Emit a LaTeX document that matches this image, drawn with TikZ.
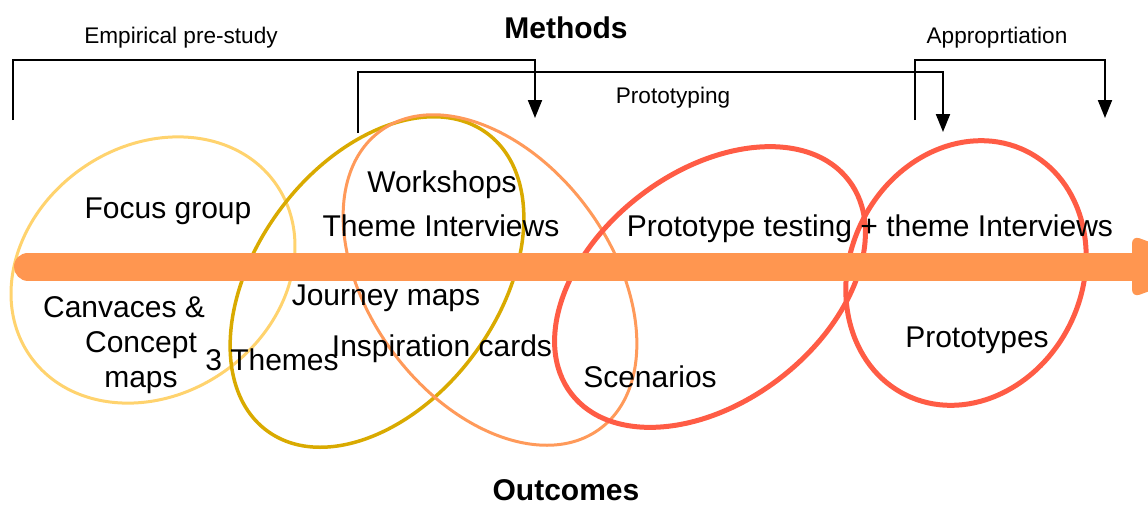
\documentclass[tikz,border=0pt]{standalone}
\usepackage{fontspec}
\setmainfont{Liberation Sans}
\usetikzlibrary{ calc, arrows.meta, shapes.geometric }
\definecolor{ring_light}{HTML}{FFD36E}
\definecolor{ring_gold}{HTML}{D9AA00}
\definecolor{ring_orange}{HTML}{FF9A5A}
\definecolor{ring_red}{HTML}{FF5C45}
\definecolor{timeline_orange}{HTML}{FF9650}
\tikzset{
    label_text/.style={font=\fontsize{15}{17.5}\selectfont, text centered, align=center, inner sep=0pt, anchor=base},
    phase_text/.style={font=\fontsize{11.3}{13}\selectfont, text centered, inner sep=0pt, anchor=base},
    title_text/.style={font=\fontsize{15}{18}\selectfont\bfseries, text centered, inner sep=0pt, anchor=base},
    ring/.style={ellipse, inner sep=0pt, outer sep=0pt, draw},
    arrow/.style={line width=1pt, -{Triangle[length=9pt, width=7pt]}},
    timeline/.style={line width=14pt, line cap=round, draw=timeline_orange},
}

\begin{document}
\begin{tikzpicture}[x=0.5pt, y=-0.5pt]
            \useasboundingbox (0,0) rectangle (1148,505);
            \clip (0,0) rectangle (1148,505);
            %%%%%%%%%
            % RINGS %
            %%%%%%%%%
            \node (pre_study_ring) [ring, draw=ring_light, line width=1.5pt,
                    minimum width=150pt, minimum height=124pt, rotate=35] at (153,270) {};
            \node (themes_ring) [ring, draw=ring_gold, line width=1.75pt,
                    minimum width=185pt, minimum height=121pt, rotate=53.5] at (377,282) {};
            \node (workshop_ring) [ring, draw=ring_orange, line width=1.5pt,
                    minimum width=185pt, minimum height=121pt, rotate=-53.5] at (490,280) {};
            \node (testing_ring) [ring, draw=ring_red, line width=2.5pt,
                    minimum width=175pt, minimum height=115pt, rotate=37.6] at (710,287) {};
            \node (prototype_ring) [ring, draw=ring_red, line width=2.5pt,
                    minimum width=136pt, minimum height=116pt, rotate=63.7] at (966,273) {};

            %%%%%%%%%%%%
            % TIMELINE %
            %%%%%%%%%%%%
            \coordinate (timeline_start) at (28,266.5);
            \coordinate (timeline_end) at (1136,266.5);
            \draw [timeline] (timeline_start) -- (timeline_end);
            \fill [timeline_orange, rounded corners=4pt]
                    ($(timeline_end)+(-4,-31)$) -- ($(timeline_end)+(80,0)$)
                    -- ($(timeline_end)+(-4,31)$) -- cycle;

            %%%%%%%%%%%
            % PHASES  %
            %%%%%%%%%%%
            \node (methods) [title_text] at (566,38) {Methods};
            \node (outcomes) [title_text] at (566,500) {Outcomes};
            \node (pre_study) [phase_text] at (181,43) {Empirical pre-study};
            \node (prototyping) [phase_text] at (673,103) {Prototyping};
            \node (appropriation) [phase_text] at (997,43) {Approprtiation};

            \coordinate (pre_study_from) at (13,120);
            \coordinate (pre_study_to) at (535,118);
            \coordinate (prototyping_from) at (358,133);
            \coordinate (prototyping_to) at (943,132);
            \coordinate (appropriation_from) at (915,120);
            \coordinate (appropriation_to) at (1105,118);

            \draw [arrow] (pre_study_from) -- ++(0,-60) -| (pre_study_to);
            \draw [arrow] (prototyping_from) -- ++(0,-61) -| (prototyping_to);
            \draw [arrow] (appropriation_from) -- ++(0,-60) -| (appropriation_to);

            %%%%%%%%%%
            % LABELS %
            %%%%%%%%%%
            \node (focus_group) [label_text] at (168,218) {Focus group};
            \node (canvases) [label_text, anchor=center] at (141,345)
                    {Canvaces \&\kern17pt\\ Concept\\ maps};
            \node (three_themes) [label_text] at (272,370) {3 Themes};
            \node (workshops) [label_text] at (442,192) {Workshops};
            \node (theme_interviews) [label_text] at (441,236) {Theme Interviews};
            \node (journey_maps) [label_text] at (386,305) {Journey maps};
            \node (inspiration_cards) [label_text] at (442,356) {Inspiration cards};
            \node (scenarios) [label_text] at (650,387) {Scenarios};
            \node (prototype_testing) [label_text] at (870,236)
                    {Prototype testing + theme Interviews};
            \node (prototypes) [label_text] at (977,347) {Prototypes};
      \end{tikzpicture}
\end{document}
